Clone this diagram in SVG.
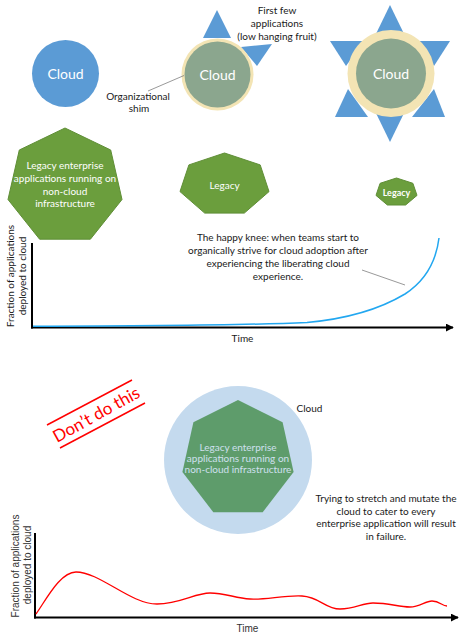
<svg xmlns="http://www.w3.org/2000/svg" width="465" height="640" viewBox="0 0 465 640">
<style>
  text { font-family: Lato, "Liberation Sans", sans-serif; }
  .lbl { font-size: 10px; fill: #1a1a1a; text-anchor: middle; }
  .ar { font-family: "Liberation Sans", Arial, sans-serif; font-size: 10px; fill: #333; text-anchor: middle; }
  .wt { fill: #ffffff; text-anchor: middle; }
  .tri { fill: #5B9BD5; }
  .ring { fill: #F3E4B4; }
  .core { fill: #8BA68E; }
  .hep { fill: #6B9E3D; stroke: #5F8E36; stroke-width: 1; }
  .call { stroke: #7F7F7F; stroke-width: 0.8; fill: none; }
  .axis { stroke: #000; stroke-width: 2; fill: none; }
</style>
<defs>
  <marker id="arr" viewBox="0 0 10 10" refX="9" refY="5" markerWidth="4" markerHeight="4" orient="auto" markerUnits="strokeWidth">
    <path d="M0,0 L10,5 L0,10 z" fill="#000"/>
  </marker>
</defs>

<g id="cloud1">
  <circle cx="65.5" cy="73.5" r="33.5" fill="#5B9BD5"/>
  <text class="wt" x="65.5" y="78.5" font-size="14">Cloud</text>
</g>

<g id="cloud2">
  <polygon class="tri" points="217,10 203,38 231,38"/>
  <polygon class="tri" points="241,47 272,44 257,66"/>
  <circle class="ring" cx="217.5" cy="74.5" r="36"/>
  <circle class="core" cx="217.5" cy="74.5" r="33"/>
  <text class="wt" x="217.5" y="79.5" font-size="14">Cloud</text>
</g>

<g id="cloud3">
  <polygon class="tri" points="390,5 373,40 407,40"/>
  <polygon class="tri" points="390,142 373,107 407,107"/>
  <polygon class="tri" points="330,41 364,41 346,66"/>
  <polygon class="tri" points="450,41 416,41 434,66"/>
  <polygon class="tri" points="335,117 368,117 348,89"/>
  <polygon class="tri" points="445,117 412,117 434,89"/>
  <circle class="ring" cx="391" cy="73.5" r="43.5"/>
  <circle class="core" cx="391" cy="73.5" r="35"/>
  <text class="wt" x="391" y="78.5" font-size="14">Cloud</text>
</g>

<g id="label-first-few">
  <text class="lbl" x="277" y="13.5">First few</text>
  <text class="lbl" x="277" y="26.5">applications</text>
  <text class="lbl" x="277" y="39.5">(low hanging fruit)</text>
</g>

<g id="label-shim">
  <text class="lbl" x="138" y="99.5">Organizational</text>
  <text class="lbl" x="139" y="112">shim</text>
</g>

<g id="legacy-large">
  <polygon class="hep" points="65,128 110.7,150 122,199.5 90.4,239.2 39.6,239.2 8,199.5 19.3,150"/>
  <text class="wt" x="65" y="169" font-size="10">Legacy enterprise</text>
  <text class="wt" x="65" y="181.5" font-size="10">applications running on</text>
  <text class="wt" x="65" y="194.5" font-size="10">non-cloud</text>
  <text class="wt" x="65" y="207" font-size="10">infrastructure</text>
</g>

<g id="legacy-medium">
  <polygon class="hep" points="224.5,153 260.2,164.9 269,191.6 244.3,213.1 204.7,213.1 180,191.6 188.9,164.9"/>
  <text class="wt" x="224.5" y="188.5" font-size="10">Legacy</text>
</g>

<g id="legacy-small">
  <polygon class="hep" points="396.5,178 412.9,183.3 417,195.4 405.6,205 387.4,205 376,195.4 380.1,183.3"/>
  <text class="wt" x="396.5" y="195.5" font-size="9" font-weight="bold">Legacy</text>
</g>

<g id="chart1">
  <line class="axis" x1="32" y1="243" x2="32" y2="328.5"/>
  <line class="axis" x1="31" y1="327.5" x2="453" y2="327.5" marker-end="url(#arr)"/>
  <path d="M33,326.3 C150,326 250,325 307,322.5 C345,319 380,309 405,294 C425,281 436,262 439,238" fill="none" stroke="#22A7F0" stroke-width="1.5"/>
  <text class="lbl" transform="translate(13.5,276) rotate(-90)" font-size="10.5">Fraction of applications</text>
  <text class="lbl" transform="translate(26,276) rotate(-90)" font-size="10.5">deployed to cloud</text>
  <text class="lbl" x="242.5" y="342" font-size="10.5">Time</text>
</g>

<g id="label-knee">
  <text class="lbl" x="278" y="241">The happy knee: when  teams start to</text>
  <text class="lbl" x="278" y="254">organically strive for cloud adoption after</text>
  <text class="lbl" x="278" y="267">experiencing the liberating cloud</text>
  <text class="lbl" x="278" y="279.5">experience.</text>
</g>

<g id="connectors">
  <line class="call" x1="148" y1="91" x2="184" y2="75.5"/>
  <line class="call" x1="362" y1="270" x2="405" y2="285"/>
</g>

<g id="dont-do-this">
  <line x1="47" y1="425" x2="132" y2="380" stroke="#FF0000" stroke-width="1.5"/>
  <line x1="60" y1="448" x2="145" y2="403" stroke="#FF0000" stroke-width="1.5"/>
  <text transform="translate(96,414) rotate(-29)" text-anchor="middle" dominant-baseline="central" font-size="17" fill="#FF0000">Don’t do this</text>
</g>

<g id="cloud-big">
  <circle cx="238" cy="460" r="74" fill="#C4DAEE"/>
  <text class="lbl" x="309.5" y="412" font-size="10.5">Cloud</text>
</g>

<g id="legacy-inside">
  <polygon points="238,400 282.6,422.2 293.6,472.1 262.7,512.2 213.3,512.2 182.4,472.1 193.4,422.2" fill="#5E9C6B"/>
  <text x="238" y="450.5" font-size="10" fill="#CFE0EE" text-anchor="middle">Legacy enterprise</text>
  <text x="238" y="461.5" font-size="10" fill="#CFE0EE" text-anchor="middle">applications running on</text>
  <text x="238" y="472.5" font-size="10" fill="#CFE0EE" text-anchor="middle">non-cloud infrastructure</text>
</g>

<g id="label-failure">
  <text class="lbl" x="386" y="502">Trying to stretch and mutate the</text>
  <text class="lbl" x="386" y="514.5">cloud to cater to every</text>
  <text class="lbl" x="386" y="527">enterprise application will result</text>
  <text class="lbl" x="386" y="539.5">in failure.</text>
</g>

<g id="chart2">
  <line class="axis" x1="35" y1="533" x2="35" y2="618.5"/>
  <line class="axis" x1="34" y1="617.5" x2="458" y2="617.5" marker-end="url(#arr)"/>
  <path d="M36,614 C46,600 60,572 76,572 C100,572 130,604 157,604 C180,604 195,593 210,593 C225,593 235,598 250,599 C265,600 285,595 302,596 C320,597 325,609 340,609 C355,609 362,603 373,603 C390,603 398,607 410,607 C420,607 425,601 432,601 C440,601 442,606 447,606" fill="none" stroke="#FF0000" stroke-width="1.3"/>
  <text class="ar" transform="translate(18.5,566) rotate(-90)">Fraction of applications</text>
  <text class="ar" transform="translate(31,565) rotate(-90)">deployed to cloud</text>
  <text class="ar" x="247.5" y="632">Time</text>
</g>
</svg>
